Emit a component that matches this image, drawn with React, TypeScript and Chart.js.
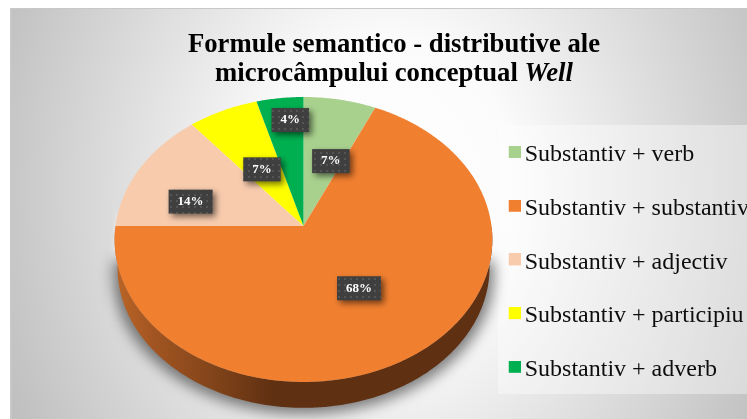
import React, { useEffect, useRef } from "react";
import { Chart, registerables } from "chart.js";

Chart.register(...registerables);

const categories = ["Substantiv + verb", "Substantiv + substantiv", "Substantiv + adjectiv", "Substantiv + participiu", "Substantiv + adverb"];
const shares = [6.8, 68.2, 14.0, 6.6, 4.4];
const sliceColors = ["#A9D18E", "#F17F30", "#F8CBAD", "#FFFF00", "#00B050"];
const titleLineOne = "Formule semantico - distributive ale";
const titleLineTwo = "microcâmpului conceptual ";
const titleItalic = "Well";
const labelNudges = [[4, 16], [-3, -6], [-10, 12], [10, 17], [2, -24]];

const SERIF = "'Liberation Serif', serif";
const TILT = 0.751;
const PERSP = 0.0947;

function project(arc: any, t: number) {
  const u = Math.cos(t);
  const v = Math.sin(t);
  const d = 1 - PERSP * v;
  return { x: arc.x + (arc.outerRadius * u) / d, y: arc.y + (arc.outerRadius * TILT * v) / d };
}

function projectAt(arc: any, t: number, f: number) {
  const u = Math.cos(t) * f;
  const v = Math.sin(t) * f;
  const d = 1 - PERSP * v;
  return { x: arc.x + (arc.outerRadius * u) / d, y: arc.y + (arc.outerRadius * TILT * v) / d };
}

function wallPoint(arc: any, t: number) {
  const p = project(arc, t);
  const r = arc.outerRadius;
  const ey = arc.y + r * 0.072;
  return { x: arc.x + (p.x - arc.x) * 0.985, y: ey + (p.y - ey) * 0.985 + r * 0.149 };
}

function legendMarker(color: string) {
  const c = document.createElement("canvas");
  c.width = 16;
  c.height = 18;
  const g = c.getContext("2d")!;
  g.fillStyle = color;
  g.fillRect(4, 0, 12, 12);
  return c;
}

const pieProjection = {
  id: "pieProjection",
  beforeDraw(chart: any) {
    const { ctx, width, height } = chart;
    ctx.save();
    ctx.fillStyle = "#ffffff";
    ctx.fillRect(0, 0, width, height);
    ctx.beginPath();
    ctx.rect(10, 8, width - 10, height - 8);
    ctx.clip();
    ctx.translate(390, 190);
    ctx.scale(1, 1.2);
    const g = ctx.createRadialGradient(0, 0, 0, 0, 0, 420);
    g.addColorStop(0, "#ffffff");
    g.addColorStop(0.3, "#fbfbfb");
    g.addColorStop(1, "#bfbfbf");
    ctx.fillStyle = g;
    ctx.fillRect(-500, -300, 1000, 600);
    ctx.restore();
    ctx.save();
    ctx.fillStyle = "#c8c8c8";
    ctx.fillRect(10, 8, width - 10, 1);
    ctx.fillRect(10, 8, 2, height - 8);
    ctx.fillStyle = "rgba(255,255,255,0.38)";
    ctx.fillRect(498, 125, width - 498, 269);
    ctx.restore();
  },
  afterLayout(chart: any) {
    const lg = chart.legend;
    lg.left = 483;
    lg.right = 780;
    lg.top = 113.3;
    lg.bottom = 600;
  },
  beforeDatasetDraw(chart: any, args: any) {
    const { ctx } = chart;
    const meta = args.meta;
    const arcs = meta.data;
    const first = arcs[0];
    const r = first.outerRadius;
    ctx.save();
    // pale halo that fades out, then cast shadow
    ctx.save();
    ctx.filter = "blur(2px)";
    const halo = ctx.createLinearGradient(0, first.y - 14, 0, first.y + r * 0.56);
    halo.addColorStop(0, "rgba(255,255,255,0.28)");
    halo.addColorStop(0.6, "rgba(255,255,255,0.2)");
    halo.addColorStop(1, "rgba(255,255,255,0)");
    ctx.fillStyle = halo;
    ctx.beginPath();
    ctx.moveTo(first.x - r, first.y - 14);
    ctx.lineTo(first.x - r * 1.065, first.y + r * 0.56);
    ctx.lineTo(first.x + r, first.y + r * 0.56);
    ctx.lineTo(first.x + r, first.y);
    ctx.closePath();
    ctx.fill();
    ctx.restore();
    ctx.save();
    ctx.filter = "blur(7px)";
    ctx.fillStyle = "rgba(60,60,60,0.66)";
    ctx.beginPath();
    for (let i = 0; i <= 180; i++) {
      const t = Math.PI - (i * Math.PI) / 180;
      const p = wallPoint(first, t);
      const x = first.x + (p.x - first.x) * 1.025;
      i ? ctx.lineTo(x, p.y + 6) : ctx.moveTo(x, p.y + 6);
    }
    ctx.closePath();
    ctx.fill();
    ctx.restore();
    // side wall, only where the rim faces the viewer
    const wall = ctx.createLinearGradient(first.x - r, 0, first.x + r, 0);
    wall.addColorStop(0, "#bb6526");
    wall.addColorStop(0.1, "#a25522");
    wall.addColorStop(0.25, "#84451a");
    wall.addColorStop(0.42, "#5f3012");
    wall.addColorStop(1, "#5f3012");
    arcs.forEach((arc: any) => {
      const a0 = Math.max(arc.startAngle, 0);
      const a1 = Math.min(arc.endAngle, Math.PI);
      if (a1 <= a0) return;
      ctx.beginPath();
      const n = Math.ceil((a1 - a0) / 0.01);
      for (let i = 0; i <= n; i++) {
        const p = project(arc, a0 + ((a1 - a0) * i) / n);
        i ? ctx.lineTo(p.x, p.y) : ctx.moveTo(p.x, p.y);
      }
      for (let i = n; i >= 0; i--) {
        const p = wallPoint(arc, a0 + ((a1 - a0) * i) / n);
        ctx.lineTo(p.x, p.y);
      }
      ctx.closePath();
      ctx.fillStyle = wall;
      ctx.fill();
    });
    // top face
    arcs.forEach((arc: any) => {
      ctx.beginPath();
      ctx.moveTo(arc.x, arc.y);
      const n = Math.max(2, Math.ceil((arc.endAngle - arc.startAngle) / 0.01));
      for (let i = 0; i <= n; i++) {
        const p = project(arc, arc.startAngle + ((arc.endAngle - arc.startAngle) * i) / n);
        ctx.lineTo(p.x, p.y);
      }
      ctx.closePath();
      ctx.fillStyle = arc.options.backgroundColor;
      ctx.fill();
    });
    ctx.restore();
    return false;
  },
  afterDatasetsDraw(chart: any) {
    const { ctx } = chart;
    const meta = chart.getDatasetMeta(0);
    const total = shares.reduce((a, b) => a + b, 0);
    const pat = document.createElement("canvas");
    pat.width = 6;
    pat.height = 6;
    const pc = pat.getContext("2d")!;
    pc.fillStyle = "#3f3f3f";
    pc.fillRect(0, 0, 6, 6);
    pc.fillStyle = "#555555";
    pc.fillRect(2, 2, 2, 2);
    const pattern = ctx.createPattern(pat, "repeat");
    meta.data.forEach((arc: any, i: number) => {
      const mid = (arc.startAngle + arc.endAngle) / 2;
      const frac = i === 1 ? 0.55 : 0.62;
      const c = projectAt(arc, mid, frac);
      const cx = c.x + labelNudges[i][0];
      const cy = c.y + labelNudges[i][1];
      const text = Math.round((shares[i] / total) * 100) + "%";
      ctx.save();
      ctx.font = "bold 13px " + SERIF;
      const w = ctx.measureText(text).width + 18;
      const h = 24;
      ctx.shadowColor = "rgba(0,0,0,0.55)";
      ctx.shadowBlur = 6;
      ctx.shadowOffsetX = 3;
      ctx.shadowOffsetY = 3;
      ctx.fillStyle = pattern;
      ctx.fillRect(cx - w / 2, cy - h / 2, w, h);
      ctx.shadowColor = "transparent";
      ctx.fillStyle = "#ffffff";
      ctx.textAlign = "center";
      ctx.textBaseline = "middle";
      ctx.fillText(text, cx, cy);
      ctx.restore();
    });
    // title
    ctx.save();
    ctx.fillStyle = "#000000";
    ctx.textBaseline = "alphabetic";
    ctx.textAlign = "left";
    const bold = "bold 26.7px " + SERIF;
    const ital = "italic bold 26.7px " + SERIF;
    ctx.font = bold;
    const w1 = ctx.measureText(titleLineOne).width;
    ctx.fillText(titleLineOne, 394 - w1 / 2, 52);
    const w2a = ctx.measureText(titleLineTwo).width;
    ctx.font = ital;
    const w2b = ctx.measureText(titleItalic).width;
    const x2 = 394 - (w2a + w2b) / 2;
    ctx.font = bold;
    ctx.fillText(titleLineTwo, x2, 81);
    ctx.font = ital;
    ctx.fillText(titleItalic, x2 + w2a, 81);
    ctx.restore();
  },
};

export default function App() {
  const ref = useRef<HTMLCanvasElement>(null);
  useEffect(() => {
    const chart = new Chart(ref.current!, {
      type: "pie",
      data: {
        labels: categories,
        datasets: [{ data: shares, backgroundColor: sliceColors, borderWidth: 0 }],
      },
      options: {
        responsive: false,
        animation: false,
        radius: 188,
        layout: { padding: { left: 115, top: 33, right: 0, bottom: 0 } },
        plugins: {
          tooltip: { enabled: false },
          legend: {
            position: "right",
            align: "start",
            maxWidth: 255,
            labels: {
              usePointStyle: true,
              boxWidth: 0.01,
              boxHeight: 12,
              padding: 29.7,
              color: "#0d0d0d",
              font: { family: SERIF, size: 24, lineHeight: 1 },
              generateLabels: () =>
                categories.map((text, i) => ({
                  text,
                  fillStyle: sliceColors[i],
                  strokeStyle: sliceColors[i],
                  lineWidth: 0,
                  pointStyle: legendMarker(sliceColors[i]),
                  fontColor: "#0d0d0d",
                  index: i,
                  hidden: false,
                })),
            },
          },
        },
      },
      plugins: [pieProjection],
    } as any);
    return () => chart.destroy();
  }, []);
  return (
    <div style={{ position: "absolute", left: 0, top: 0, width: 747, height: 419, overflow: "hidden" }}>
      <canvas ref={ref} width={747} height={419} style={{ display: "block" }} />
    </div>
  );
}
